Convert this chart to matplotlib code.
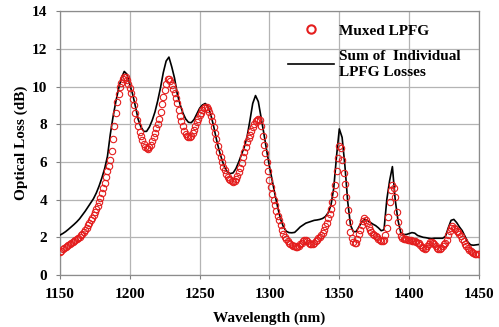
import numpy as np
import matplotlib.pyplot as plt
from matplotlib.lines import Line2D

# muxed LPFG measurement, 1 nm steps from 1150 to 1450 nm
wl_mux = np.arange(1150, 1451, 1)
loss_mux = [
    1.24, 1.30, 1.36, 1.42, 1.49, 1.55, 1.60, 1.65, 1.70, 1.75,   # 1150
    1.80, 1.85, 1.90, 1.95, 2.00, 2.10, 2.20, 2.30, 2.40, 2.52,   # 1160
    2.64, 2.76, 2.90, 3.03, 3.18, 3.33, 3.50, 3.68, 3.88, 4.10,   # 1170
    4.35, 4.62, 4.90, 5.20, 5.50, 5.80, 6.10, 6.60, 7.20, 7.90,   # 1180
    8.60, 9.20, 9.60, 9.95, 10.20, 10.40, 10.50, 10.48, 10.35, 10.15,  # 1190
    9.90, 9.65, 9.35, 9.00, 8.60, 8.20, 7.90, 7.60, 7.38, 7.15,   # 1200
    6.95, 6.80, 6.72, 6.70, 6.78, 6.92, 7.10, 7.32, 7.55, 7.80,   # 1210
    8.00, 8.30, 8.65, 9.05, 9.45, 9.80, 10.15, 10.40, 10.42, 10.30,  # 1220
    10.10, 9.88, 9.65, 9.40, 9.10, 8.75, 8.45, 8.15, 7.90, 7.65,  # 1230
    7.48, 7.38, 7.33, 7.33, 7.40, 7.52, 7.70, 7.90, 8.10, 8.30,   # 1240
    8.48, 8.62, 8.75, 8.85, 8.90, 8.90, 8.80, 8.65, 8.42, 8.15,   # 1250
    7.85, 7.55, 7.20, 6.85, 6.55, 6.25, 5.98, 5.75, 5.55, 5.38,   # 1260
    5.22, 5.10, 5.02, 4.97, 4.95, 4.98, 5.08, 5.25, 5.45, 5.70,   # 1270
    5.95, 6.25, 6.55, 6.80, 7.05, 7.25, 7.45, 7.65, 7.85, 8.00,   # 1280
    8.15, 8.25, 8.30, 8.20, 7.90, 7.40, 6.90, 6.45, 6.00, 5.50,   # 1290
    5.05, 4.65, 4.30, 4.00, 3.70, 3.40, 3.15, 2.90, 2.65, 2.40,   # 1300
    2.20, 2.03, 1.90, 1.80, 1.72, 1.66, 1.60, 1.55, 1.52, 1.50,   # 1310
    1.50, 1.55, 1.62, 1.72, 1.82, 1.88, 1.86, 1.80, 1.72, 1.66,   # 1320
    1.62, 1.64, 1.70, 1.78, 1.86, 1.95, 2.03, 2.12, 2.25, 2.40,   # 1330
    2.58, 2.78, 3.00, 3.22, 3.48, 3.85, 4.30, 4.80, 5.50, 6.20,   # 1340
    6.85, 6.75, 6.10, 5.40, 4.85, 4.15, 3.45, 2.80, 2.30, 1.95,   # 1350
    1.75, 1.68, 1.72, 1.90, 2.15, 2.40, 2.65, 2.88, 3.00, 2.92,   # 1360
    2.75, 2.55, 2.40, 2.28, 2.18, 2.10, 2.05, 2.00, 1.92, 1.85,   # 1370
    1.80, 1.80, 1.88, 2.10, 2.50, 3.10, 3.85, 4.50, 4.80, 4.60,   # 1380
    4.15, 3.35, 2.80, 2.35, 2.05, 1.95, 1.92, 1.90, 1.90, 1.88,   # 1390
    1.86, 1.84, 1.82, 1.80, 1.78, 1.75, 1.72, 1.68, 1.60, 1.50,   # 1400
    1.42, 1.37, 1.42, 1.52, 1.64, 1.74, 1.77, 1.72, 1.62, 1.52,   # 1410
    1.44, 1.38, 1.36, 1.42, 1.52, 1.62, 1.72, 1.85, 2.10, 2.35,   # 1420
    2.52, 2.58, 2.52, 2.44, 2.36, 2.28, 2.18, 2.05, 1.92, 1.80,   # 1430
    1.66, 1.52, 1.42, 1.33, 1.25, 1.20, 1.16, 1.13, 1.11, 1.10,   # 1440
    1.10]

# sum of the individual LPFG losses, 2 nm steps
wl_sum = np.arange(1150, 1451, 2)
loss_sum = [
    2.12, 2.20, 2.30, 2.42, 2.55, 2.68, 2.82, 2.98, 3.18, 3.38,   # 1150
    3.60, 3.82, 4.05, 4.35, 4.72, 5.15, 5.65, 6.30, 7.45, 8.40,   # 1170
    9.20, 9.90, 10.45, 10.80, 10.65, 10.10, 9.60, 8.95, 8.25, 7.85,  # 1190
    7.62, 7.62, 7.85, 8.20, 8.65, 9.25, 9.95, 10.75, 11.35, 11.56,  # 1210
    11.05, 10.45, 9.60, 9.05, 8.60, 8.28, 8.10, 8.08, 8.25, 8.55,  # 1230
    8.85, 9.02, 9.10, 8.95, 8.50, 7.90, 7.20, 6.60, 6.10, 5.70,   # 1250
    5.45, 5.38, 5.42, 5.65, 6.00, 6.40, 6.80, 7.35, 8.20, 9.10,   # 1270
    9.52, 9.20, 8.35, 7.50, 6.60, 5.75, 5.00, 4.25, 3.55, 2.95,   # 1290
    2.55, 2.32, 2.25, 2.24, 2.26, 2.40, 2.55, 2.65, 2.75, 2.80,   # 1310
    2.85, 2.90, 2.92, 2.95, 3.00, 3.10, 3.30, 3.70, 4.60, 6.30,   # 1330
    7.75, 7.30, 5.80, 3.90, 2.65, 2.30, 2.30, 2.55, 2.80, 2.95,   # 1350
    2.90, 2.80, 2.70, 2.62, 2.50, 2.35, 2.40, 4.00, 5.00, 5.75,   # 1370
    4.00, 2.90, 2.25, 2.15, 2.15, 2.20, 2.25, 2.22, 2.10, 2.05,   # 1390
    2.00, 1.98, 1.95, 1.93, 1.95, 1.95, 1.95, 1.95, 2.05, 2.50,   # 1410
    2.90, 2.95, 2.78, 2.55, 2.35, 2.05, 1.75, 1.60, 1.58, 1.60,   # 1430
    1.62]

xticks = [1150, 1200, 1250, 1300, 1350, 1400, 1450]
yticks = [0, 2, 4, 6, 8, 10, 12, 14]

plt.rcParams['font.family'] = 'Liberation Serif'
plt.rcParams['font.weight'] = 'bold'

fig = plt.figure(figsize=(4.99, 3.27), dpi=100)
ax = fig.add_axes([0.1202, 0.159, 0.8397, 0.807])

ax.plot(wl_sum, loss_sum, color='black', lw=1.2, zorder=3)
ax.plot(wl_mux, loss_mux, 'o', mfc='none', mec='#e41e1e', ms=4.6, mew=0.8, zorder=4)

ax.set_xlim(1150, 1450)
ax.set_ylim(0, 14)
ax.set_xticks(xticks)
ax.set_yticks(yticks)
ax.tick_params(labelsize=11, length=3, width=0.8, color='#808080', pad=6)
for lab in ax.get_xticklabels() + ax.get_yticklabels():
    lab.set_fontweight('bold')
ax.grid(True, color='#b4b4b4', lw=0.9)
ax.set_axisbelow(True)
for s in ax.spines.values():
    s.set_color('#8c8c8c')
    s.set_linewidth(0.9)

ax.set_xlabel('Wavelength (nm)', fontsize=11, fontweight='bold', labelpad=8)
ax.set_ylabel('Optical Loss (dB)', fontsize=11, fontweight='bold', labelpad=3)

handles = [Line2D([], [], ls='none', marker='o', mfc='none', mec='#e41e1e', ms=6, mew=1.5),
           Line2D([], [], color='black', lw=1.2)]
labels = ['Muxed LPFG', 'Sum of  Individual\nLPFG Losses']
leg = ax.legend(handles, labels, loc='upper left', bbox_to_anchor=(0.53, 0.975),
                frameon=False, fontsize=11, handlelength=3.0, handletextpad=0.3,
                labelspacing=0.8, borderaxespad=0)
for t in leg.get_texts():
    t.set_fontweight('bold')
    t.set_linespacing(1.3)

plt.savefig('out.png', dpi=100)
